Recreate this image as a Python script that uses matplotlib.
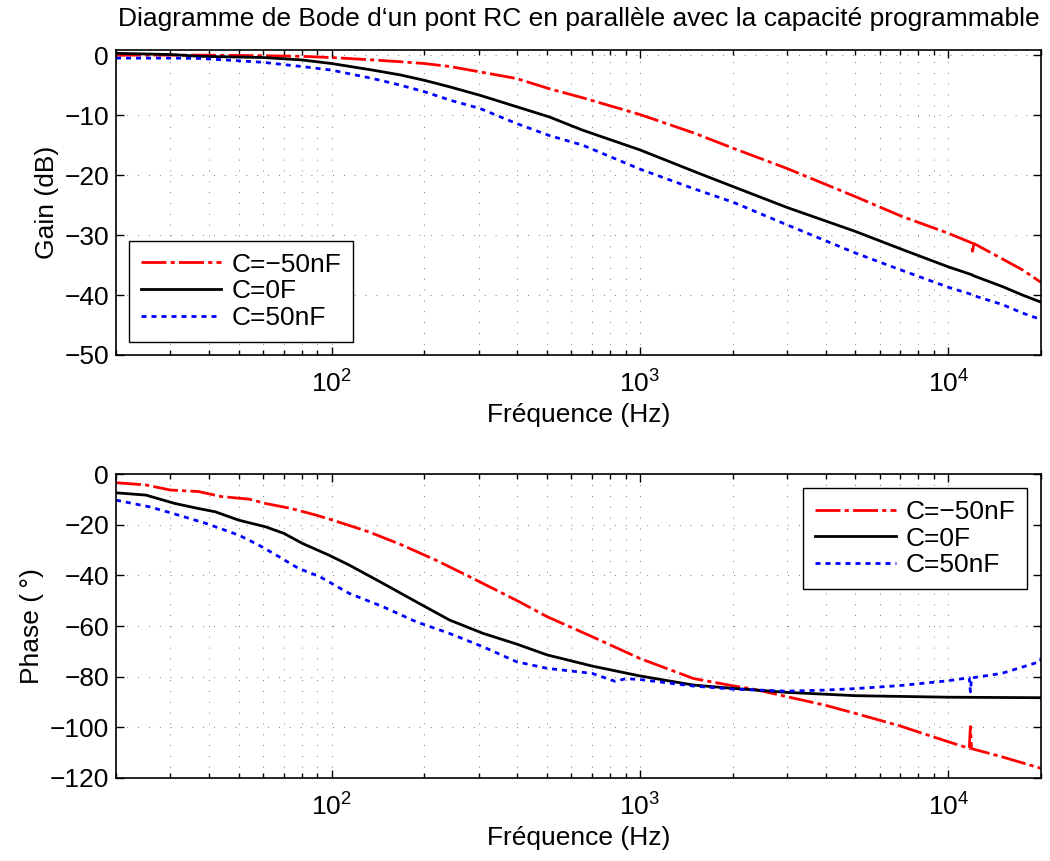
import numpy as np
import matplotlib
matplotlib.use("Agg")
import matplotlib.pyplot as plt
from matplotlib.ticker import LogLocator, NullFormatter, MultipleLocator

plt.rcParams['font.family'] = ['Liberation Sans', 'DejaVu Sans']
plt.rcParams['mathtext.default'] = 'regular'

# --- Gain (dB) ---
freq_gain = [20, 30, 37.5, 60, 80, 100, 136, 167, 200, 242, 303, 398, 508, 651, 1000,
             1500, 2000, 3000, 5000, 7000, 10000, 11900, 12000, 12100, 15000, 17400, 20000]
gain_m50 = [0.0, 0.0, 0.0, -0.1, -0.2, -0.4, -0.8, -1.1, -1.4, -1.9, -2.8, -3.9, -5.6, -7.1,
            -9.9, -13.0, -15.5, -18.9, -23.6, -26.8, -29.7, -31.3, -33.0, -31.4, -34.0,
            -35.8, -37.9]
gain_0 = [0.3, 0.1, -0.2, -0.4, -0.8, -1.4, -2.5, -3.3, -4.2, -5.3, -6.7, -8.6, -10.3, -12.5,
          -15.8, -19.4, -21.9, -25.4, -29.4, -32.3, -35.3, -36.6, -36.7, -36.8, -38.6,
          -40.0, -41.2]
gain_p50 = [-0.5, -0.5, -0.55, -1.2, -1.9, -2.5, -3.9, -5.0, -6.1, -7.5, -8.9, -11.4, -13.4,
            -15.0, -19.0, -22.3, -24.5, -28.3, -33.0, -35.8, -38.7, -39.9, -40.0, -40.1,
            -41.6, -43.0, -44.1]

# --- Phase (degres) ---
freq_ph_m50 = [20, 25, 30, 37, 44, 54, 61, 74, 89, 101, 132, 169, 218, 280, 406, 500, 700,
               1000, 1490, 2000, 2330, 3000, 3970, 5000, 7000, 10000, 11700, 11800, 11900,
               14900, 20000]
phase_m50 = [-3.4, -4.3, -6.3, -6.9, -8.9, -9.9, -11.6, -13.6, -16.2, -18.2, -22.8, -28.0,
             -34.0, -40.5, -50.4, -56.3, -64.2, -72.8, -80.7, -83.6, -84.9, -87.9, -91.2,
             -94.5, -99.5, -105.7, -108.3, -99.7, -108.4, -111.6, -116.2]

freq_ph_0 = [20, 25, 31, 37, 42, 50, 61, 70, 80.5, 98, 114, 147, 188, 241, 310, 398, 500,
             700, 1000, 1490, 2000, 3000, 5000, 10000, 20000]
phase_0 = [-7.4, -8.3, -11.6, -13.6, -14.9, -18.2, -20.8, -23.4, -27.4, -32.0, -35.9, -43.2,
           -50.4, -57.6, -62.9, -67.1, -71.4, -75.8, -79.7, -83.3, -84.6, -86.2, -87.5,
           -88.1, -88.3]

freq_ph_p50 = [20, 25.6, 30.5, 39.2, 50, 58, 67.5, 78, 91.6, 114, 147, 188, 241, 310, 398,
               500, 700, 830, 900, 1000, 1490, 2000, 3000, 3970, 5000, 7000, 10000, 11700,
               11800, 11900, 14900, 19900, 20000]
phase_p50 = [-10.3, -12.9, -15.5, -19.5, -24.1, -28.0, -32.6, -37.2, -40.5, -47.1, -52.4,
             -58.3, -62.9, -68.2, -74.1, -76.7, -78.7, -81.8, -80.8, -81.1, -83.7, -84.9,
             -85.7, -85.3, -84.7, -83.5, -81.6, -80.4, -86.0, -80.5, -78.7, -74.0, -72.5]

labels = ['C=\u221250nF', 'C=0F', 'C=50nF']
styles = [dict(color='red', linestyle=(0, (9, 1.5, 1.5, 1.5))),
          dict(color='black', linestyle='-'),
          dict(color='blue', linestyle=(0, (1.8, 1.8)))]

FS = 19

fig = plt.figure(figsize=(10.5, 8.61), dpi=100)
ax_g = fig.add_axes([0.1105, 0.5877, 0.881, 0.3542])
ax_p = fig.add_axes([0.1105, 0.0964, 0.881, 0.3530])


def style_axes(ax):
    ax.set_xscale('log')
    ax.set_xlim(20, 20000)
    ax.xaxis.set_major_locator(LogLocator(base=10))
    ax.xaxis.set_minor_locator(LogLocator(base=10, subs=np.arange(2, 10)))
    ax.xaxis.set_minor_formatter(NullFormatter())
    ax.tick_params(which='both', direction='in', top=True, right=True,
                   labelsize=FS, width=1.0)
    ax.tick_params(axis='x', which='major', pad=11)
    ax.tick_params(axis='y', which='major', pad=5)
    ax.tick_params(which='major', length=6)
    ax.tick_params(which='minor', length=3.5)
    for s in ax.spines.values():
        s.set_linewidth(1.2)
    grid_style = dict(color='0.3', linestyle=(0, (1, 12)), linewidth=0.6)
    ax.grid(True, which='major', **grid_style)
    ax.grid(True, which='minor', axis='x', **grid_style)
    ax.set_xlabel('Fréquence (Hz)', fontsize=FS)


def make_legend(ax, loc, anchor):
    leg = ax.legend(loc=loc, bbox_to_anchor=anchor, fontsize=FS, fancybox=False,
                    edgecolor='black', framealpha=1, handlelength=3.05,
                    handletextpad=0.38, borderaxespad=0, labelspacing=0.1,
                    borderpad=0.45)
    leg.get_frame().set_linewidth(1.0)
    return leg


# --- Gain ---
for g, lab, st in zip([gain_m50, gain_0, gain_p50], labels, styles):
    ax_g.plot(freq_gain, g, linewidth=2, label=lab, **st)
style_axes(ax_g)
ax_g.set_ylim(-50, 0.85)
ax_g.yaxis.set_major_locator(MultipleLocator(10))
ax_g.set_ylabel('Gain (dB)', fontsize=FS)
ax_g.set_title("Diagramme de Bode d\u2018un pont RC en parallèle avec la capacité programmable",
               fontsize=FS, pad=17)
make_legend(ax_g, 'lower left', (0.014, 0.043))

# --- Phase ---
for f, p, lab, st in zip([freq_ph_m50, freq_ph_0, freq_ph_p50],
                         [phase_m50, phase_0, phase_p50], labels, styles):
    ax_p.plot(f, p, linewidth=2, label=lab, **st)
style_axes(ax_p)
ax_p.set_ylim(-120, 0)
ax_p.yaxis.set_major_locator(MultipleLocator(20))
ax_p.set_ylabel('Phase (\u2009°)', fontsize=FS)
make_legend(ax_p, 'upper right', (0.985, 0.954))

fig.savefig('out.png', dpi=100)
